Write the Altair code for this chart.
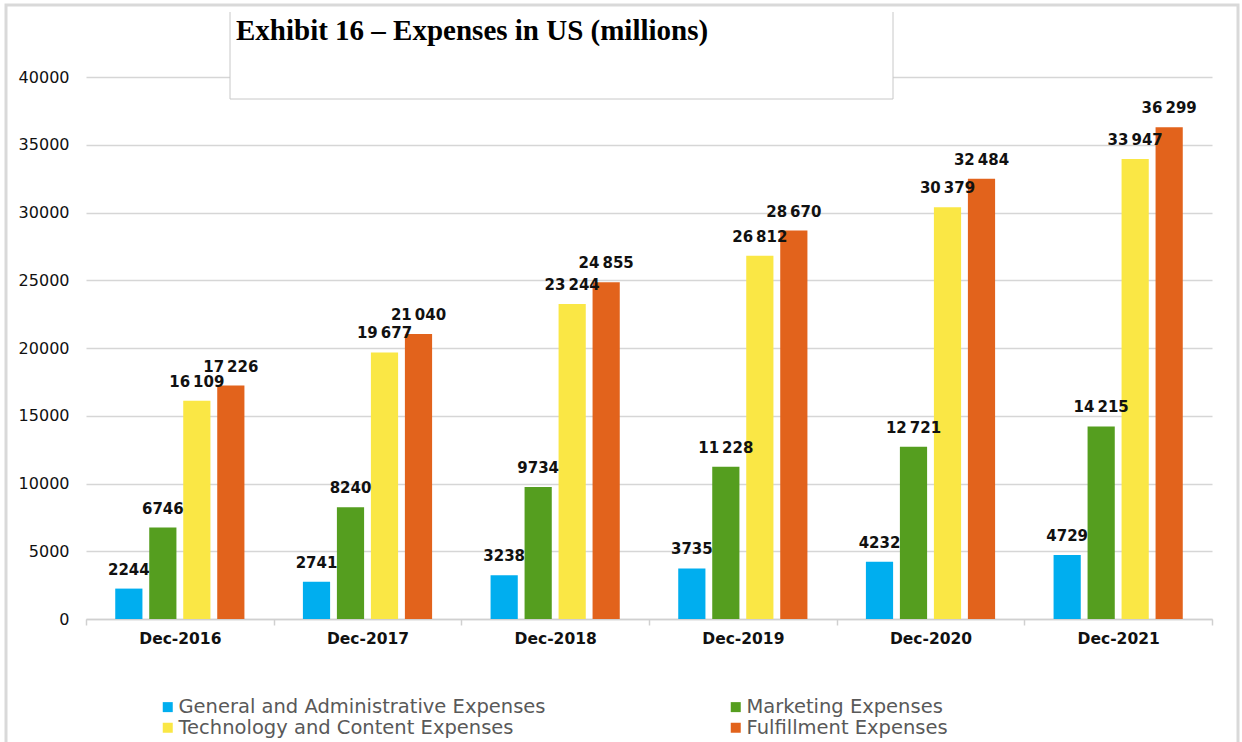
import altair as alt
import pandas as pd

periods = ["Dec-2016", "Dec-2017", "Dec-2018", "Dec-2019", "Dec-2020", "Dec-2021"]
series = [
    "General and Administrative Expenses",
    "Marketing Expenses",
    "Technology and Content Expenses",
    "Fulfillment Expenses",
]
colors = ["#00AEEF", "#559E1F", "#FAE745", "#E2631C"]

general_admin = [2244, 2741, 3238, 3735, 4232, 4729]
marketing = [6746, 8240, 9734, 11228, 12721, 14215]
technology = [16109, 19677, 23244, 26812, 30379, 33947]
fulfillment = [17226, 21040, 24855, 28670, 32484, 36299]

y_ticks = [0, 5000, 10000, 15000, 20000, 25000, 30000, 35000, 40000]

# legend is filled column by column: arrange so rows read
# General | Marketing  /  Technology | Fulfillment
legend_order = [series[0], series[2], series[1], series[3]]
legend_colors = [colors[0], colors[2], colors[1], colors[3]]

rows = []
for name, values in zip(series, [general_admin, marketing, technology, fulfillment]):
    for period, v in zip(periods, values):
        txt = str(v)
        if v >= 10000:
            txt = txt[:-3] + "\u2009" + txt[-3:]
        rows.append({"period": period, "series": name, "value": v, "label": txt})
df = pd.DataFrame(rows)

W, H = 1126, 542

x_enc = alt.X(
    "period:N",
    sort=periods,
    scale=alt.Scale(paddingInner=0, paddingOuter=0),
    axis=alt.Axis(
        title=None,
        labelAngle=0,
        labelFont="DejaVu Sans",
        labelFontWeight="bold",
        labelFontSize=15.5,
        labelColor="#111111",
        labelPadding=6,
        domainColor="#d0d0d0",
        domainWidth=1.5,
        tickColor="#d0d0d0",
        tickWidth=1.5,
        tickSize=6,
        tickBand="extent",
        grid=False,
    ),
)
offset_enc = alt.XOffset(
    "series:N",
    sort=series,
    scale=alt.Scale(paddingInner=0.2, paddingOuter=0.86),
)
y_enc = alt.Y(
    "value:Q",
    scale=alt.Scale(domain=[0, 40000], nice=False),
    axis=alt.Axis(
        title=None,
        values=y_ticks,
        format="d",
        labelFont="DejaVu Sans",
        labelFontSize=16,
        labelColor="#111111",
        labelPadding=17,
        domain=False,
        ticks=False,
        gridColor="#d6d6d6",
        gridWidth=1.5,
    ),
)

bars = alt.Chart(df).mark_bar().encode(
    x=x_enc,
    xOffset=offset_enc,
    y=y_enc,
    color=alt.Color(
        "series:N",
        scale=alt.Scale(domain=legend_order, range=legend_colors),
        legend=alt.Legend(
            title=None,
            orient="none",
            legendX=72,
            legendY=620,
            columns=2,
            columnPadding=180,
            rowPadding=0,
            symbolType="square",
            symbolSize=100,
            symbolStrokeWidth=0,
            labelFont="DejaVu Sans",
            labelFontSize=19.5,
            labelColor="#595959",
            labelOffset=1,
            labelLimit=600,
        ),
    ),
)

labels = alt.Chart(df).mark_text(
    font="DejaVu Sans",
    fontWeight="bold",
    fontSize=15,
    color="#111111",
    baseline="alphabetic",
    dy=-14,
).encode(
    x=alt.X("period:N", sort=periods),
    xOffset=alt.XOffset("series:N", sort=series),
    y=alt.Y("value:Q"),
    text="label:N",
)

# outer frame of the figure
frame = alt.Chart(pd.DataFrame({"k": [0]})).mark_rect(
    fill=None, stroke="#d9d9d9", strokeWidth=3
).encode(
    x=alt.value(-80), x2=alt.value(1152), y=alt.value(-72), y2=alt.value(720)
)

# title box covering the top gridline
title_box = alt.Chart(pd.DataFrame({"k": [0]})).mark_rect(
    fill="white", stroke="#c8c8c8", strokeWidth=1
).encode(
    x=alt.value(144), x2=alt.value(807), y=alt.value(-66), y2=alt.value(22)
)
title_top = alt.Chart(pd.DataFrame({"k": [0]})).mark_rule(
    color="white", strokeWidth=2
).encode(
    x=alt.value(143), x2=alt.value(808), y=alt.value(-66)
)
title_text = alt.Chart(pd.DataFrame({"t": ["Exhibit 16 \u2013 Expenses in US (millions)"]})).mark_text(
    font="Liberation Serif",
    fontWeight="bold",
    fontSize=29,
    color="#000000",
    align="left",
    baseline="alphabetic",
).encode(
    x=alt.value(150), y=alt.value(-37), text="t:N"
)

chart = (
    alt.layer(bars, labels, frame, title_box, title_top, title_text)
    .properties(
        width=W,
        height=H,
        autosize=alt.AutoSizeParams(type="none"),
        padding={"left": 86, "top": 77, "right": 30, "bottom": 123},
        background="white",
    )
    .configure_view(stroke=None)
)

chart.save("out.html", embed_options={"renderer": "svg", "actions": False})
